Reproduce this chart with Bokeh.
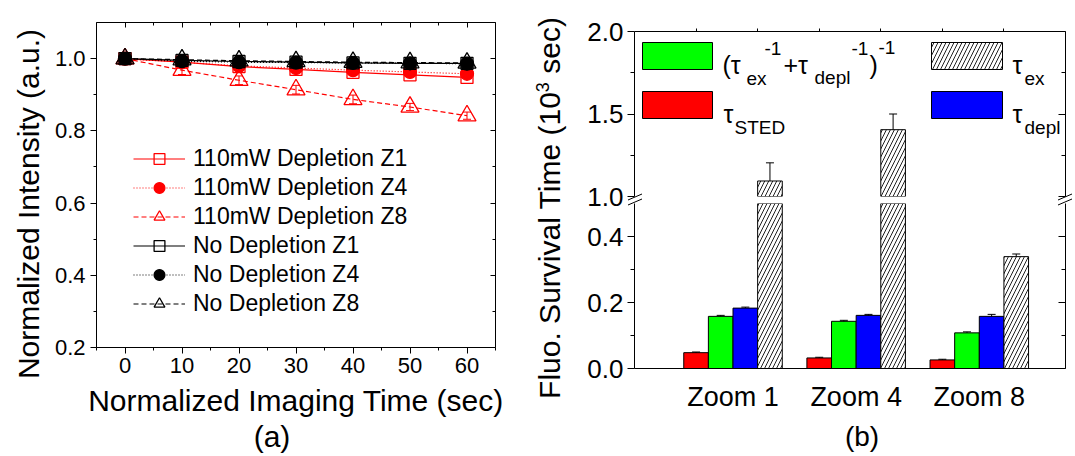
from bokeh.plotting import figure
from bokeh.models import (Range1d, LinearAxis, FixedTicker, Legend, LegendItem,
                          Whisker, ColumnDataSource, Label, BoxAnnotation,
                          TeeHead, PrintfTickFormatter, Div)
from bokeh.layouts import row, column
from bokeh.transform import dodge
from bokeh.embed import file_html
from bokeh.resources import INLINE

FONT = "Liberation Sans"
RED = "#FF0000"
GREEN = "#00FF00"
BLUE = "#0000FF"

# ---------------- data: panel (a) ----------------
time_sec = [0, 10, 20, 30, 40, 50, 60]
dep_z1 = [1.0, 0.990, 0.978, 0.970, 0.962, 0.955, 0.948]
dep_z4 = [1.0, 0.990, 0.980, 0.974, 0.968, 0.963, 0.958]
dep_z8 = [1.0, 0.968, 0.940, 0.914, 0.887, 0.866, 0.842]
dep_z8_err = [0.0, 0.012, 0.012, 0.012, 0.012, 0.010, 0.010]
nodep_z1 = [1.0, 0.995, 0.992, 0.990, 0.988, 0.987, 0.987]
nodep_z4 = [1.0, 0.993, 0.990, 0.989, 0.988, 0.987, 0.986]
nodep_z8 = [1.0, 0.997, 0.994, 0.992, 0.990, 0.989, 0.988]
series_names = ["110mW Depletion Z1", "110mW Depletion Z4", "110mW Depletion Z8",
                "No Depletion Z1", "No Depletion Z4", "No Depletion Z8"]
a_xticks = [0, 10, 20, 30, 40, 50, 60]
a_yticks = [0.2, 0.4, 0.6, 0.8, 1.0]

# ---------------- data: panel (b) ----------------
zoom_names = ["Zoom 1", "Zoom 4", "Zoom 8"]
tau_sted = [0.048, 0.032, 0.026]
tau_sted_err = [0.002, 0.002, 0.002]
tau_comb = [0.158, 0.143, 0.108]
tau_comb_err = [0.003, 0.003, 0.003]
tau_depl = [0.183, 0.161, 0.158]
tau_depl_err = [0.003, 0.003, 0.006]
tau_ex = [1.094, 1.405, 0.339]
tau_ex_err = [0.110, 0.095, 0.008]
b_low_ticks = [0.0, 0.2, 0.4]
b_high_ticks = [1.0, 1.5, 2.0]


def style_axis(ax, ticks, minor=(), tick_in=0, tick_out=6, minor_in=0, minor_out=3,
               size="22px", labels=True, standoff=5, fmt=None):
    ax.ticker = FixedTicker(ticks=list(ticks), minor_ticks=list(minor))
    ax.axis_line_color = "black"
    ax.axis_line_width = 1
    ax.major_tick_line_color = "black"
    ax.minor_tick_line_color = "black"
    ax.major_tick_in = tick_in
    ax.major_tick_out = tick_out
    ax.minor_tick_in = minor_in
    ax.minor_tick_out = minor_out
    ax.major_label_text_font = FONT
    ax.major_label_text_color = "black"
    ax.major_label_standoff = standoff
    ax.major_label_text_font_size = size
    if fmt:
        ax.formatter = PrintfTickFormatter(format=fmt)
    if not labels:
        ax.major_label_overrides = {t: "" for t in ticks}
    ax.axis_label_text_font = FONT
    ax.axis_label_text_font_style = "normal"
    ax.axis_label_text_color = "black"


def screen_label(p, x, y, text, size, align="left", baseline="alphabetic"):
    p.add_layout(Label(x=x, y=y, x_units="screen", y_units="screen", text=text,
                       text_font=FONT, text_font_size=size, text_color="black",
                       text_align=align, text_baseline=baseline))


def html_text(cx, cy, inner, size, rotate=False):
    rot = " rotate(-90deg)" if rotate else ""
    return ('<div style="position:absolute;left:%dpx;top:%dpx;'
            'transform:translate(-50%%,-50%%)%s;white-space:nowrap;line-height:1.15;'
            "font-family:'Liberation Sans';font-size:%s;color:#000;\">%s</div>"
            % (cx, cy, rot, size, inner))


TOP_H = 425          # height of the row holding the two panels
PAGE_W, PAGE_H = 1075, 456
DIV_STYLE = {"position": "relative", "overflow": "visible"}

# ======================= panel (a) =======================
A_X0 = 45                                     # page x where figure (a) starts
A_L, A_T, A_R, A_B = 96, 22, 495, 347          # frame edges in page pixels
A_W = 532 - A_X0
pa = figure(width=A_W, height=TOP_H, x_range=Range1d(-5, 65), y_range=Range1d(0.2, 1.1),
            output_backend="svg", toolbar_location=None,
            min_border_left=A_L - A_X0, min_border_right=532 - A_R, min_border_top=A_T,
            min_border_bottom=TOP_H - A_B)
pa.grid.visible = False
pa.outline_line_color = None

x_minor = [-5, 5, 15, 25, 35, 45, 55, 65]
y_minor = [0.3, 0.5, 0.7, 0.9]
style_axis(pa.below[0], a_xticks, x_minor, tick_out=6, minor_out=3, size="22px", standoff=4)
style_axis(pa.left[0], a_yticks, y_minor, tick_out=6, minor_out=3, size="22px", standoff=5, fmt="%.1f")
ax_r = LinearAxis()
style_axis(ax_r, a_yticks, y_minor, tick_in=5, tick_out=0, minor_in=3, minor_out=0, labels=False, standoff=0)
pa.add_layout(ax_r, "right")
ax_t = LinearAxis()
style_axis(ax_t, a_xticks, x_minor, tick_in=5, tick_out=0, minor_in=3, minor_out=0, labels=False, standoff=0)
pa.add_layout(ax_t, "above")

pa.below[0].axis_label = "Normalized Imaging Time (sec)"
pa.below[0].axis_label_text_font_size = "30px"
pa.below[0].axis_label_standoff = 8

specs = [
    (dep_z1, RED, "solid", "square", None, 12),
    (dep_z4, RED, "1 2", "circle", RED, 13),
    (dep_z8, RED, "5 3", "triangle", None, 18),
    (nodep_z1, "black", "solid", "square", None, 12),
    (nodep_z4, "black", "1 2", "circle", "black", 13),
    (nodep_z8, "black", "5 3", "triangle", None, 18),
]
items = []
for name, (ys, col, dash, mk, fill, sz) in zip(series_names, specs):
    lr = pa.line(time_sec, ys, line_color=col, line_width=1.2, line_dash=dash)
    sr = pa.scatter(time_sec, ys, marker=mk, size=sz, line_color=col,
                    fill_color=fill, fill_alpha=1 if fill else 0, line_width=1.3)
    items.append(LegendItem(label=name, renderers=[lr, sr]))
    if ys is dep_z8:
        ex = [t for t, e in zip(time_sec, dep_z8_err) if e > 0]
        up = [v + e for v, e in zip(ys, dep_z8_err) if e > 0]
        lo = [v - e for v, e in zip(ys, dep_z8_err) if e > 0]
        wsrc = ColumnDataSource(dict(x=ex, upper=up, lower=lo))
        pa.add_layout(Whisker(source=wsrc, base="x", upper="upper", lower="lower",
                              line_color=RED, line_width=1,
                              upper_head=TeeHead(size=8, line_color=RED, line_width=1),
                              lower_head=TeeHead(size=8, line_color=RED, line_width=1)))

legend = Legend(items=items, location=(133 - A_L, A_B - 317), orientation="vertical",
                glyph_width=52, glyph_height=27, label_height=27, spacing=2,
                padding=0, margin=0, label_standoff=8,
                label_text_font=FONT, label_text_font_size="23px",
                label_text_color="black",
                border_line_color=None, background_fill_alpha=0)
pa.add_layout(legend)

ylab_a = Div(text=html_text(29, 204, "Normalized Intensity (a.u.)", "30px", rotate=True),
             width=A_X0, height=TOP_H, margin=0, styles=DIV_STYLE)

# ======================= panel (b) =======================
B_X0 = 572                     # page x where the (b) figures start
B_L, B_R = 634, 1065           # frame left / right (page px)
U_T, U_B = 31, 196             # upper frame top / bottom
L_T, L_B = 203, 368            # lower frame top / bottom
OVERLAP = 9                    # upper canvas reaches this far below the lower frame top

ylab_b = Div(text=html_text(18, 208, 'Fluo. Survival Time (10<sup style="font-size:18px;">3</sup> sec)',
                            "30px", rotate=True),
             width=B_X0 - 532, height=TOP_H, margin=0, styles=DIV_STYLE)

xs = list(range(1, len(zoom_names) + 1))
xr = Range1d(0.2, 3.7)
offsets = [-0.3, -0.1, 0.1, 0.3]
bw = 0.2
HIGH_START = 1.0
LOW_TOP = 0.5

pu = figure(width=PAGE_W - B_X0, height=L_T + OVERLAP, x_range=xr, y_range=Range1d(HIGH_START, 2.0),
            x_axis_location="above", output_backend="svg", toolbar_location=None,
            min_border_left=B_L - B_X0, min_border_right=PAGE_W - B_R,
            min_border_top=U_T, min_border_bottom=L_T + OVERLAP - U_B)
pb = figure(width=PAGE_W - B_X0, height=TOP_H - L_T, x_range=xr, y_range=Range1d(0.0, LOW_TOP),
            output_backend="svg", toolbar_location=None,
            min_border_left=B_L - B_X0, min_border_right=PAGE_W - B_R,
            min_border_top=0, min_border_bottom=TOP_H - L_B, margin=(-OVERLAP, 0, 0, 0))
pb.background_fill_alpha = 0
pb.border_fill_alpha = 0
for p in (pu, pb):
    p.grid.visible = False
    p.outline_line_color = None

style_axis(pu.above[0], [0.7, 1.2, 1.7, 2.2, 2.7, 3.2], [], tick_out=3, labels=False, standoff=0)
style_axis(pu.left[0], b_high_ticks, [1.25, 1.75], tick_out=7, minor_out=4, size="26px",
           standoff=4, fmt="%.1f")
r1 = LinearAxis()
style_axis(r1, b_high_ticks, [1.25, 1.75], tick_in=7, tick_out=0, minor_in=4, minor_out=0,
           labels=False, standoff=0)
pu.add_layout(r1, "right")

style_axis(pb.left[0], b_low_ticks, [0.1, 0.3], tick_out=7, minor_out=4, size="26px",
           standoff=4, fmt="%.1f")
r2 = LinearAxis()
style_axis(r2, b_low_ticks, [0.1, 0.3], tick_in=7, tick_out=0, minor_in=4, minor_out=0,
           labels=False, standoff=0)
pb.add_layout(r2, "right")
style_axis(pb.below[0], xs, [], tick_out=0, size="27px", standoff=13)
pb.below[0].major_label_overrides = {x: n for x, n in zip(xs, zoom_names)}

src = ColumnDataSource(dict(x=xs, sted=tau_sted, comb=tau_comb, depl=tau_depl, ex=tau_ex))
bar_specs = [("sted", RED, offsets[0]), ("comb", GREEN, offsets[1]), ("depl", BLUE, offsets[2])]
for key, colr, off in bar_specs:
    pb.vbar(x=dodge("x", off, range=xr), top=key, width=bw, bottom=0, source=src,
            fill_color=colr, line_color="black", line_width=1)

hatch_kw = dict(fill_color="white", line_color="black", line_width=1,
                hatch_pattern="/", hatch_color="#222222", hatch_scale=8, hatch_weight=1)
pb.vbar(x=dodge("x", offsets[3], range=xr), top="ex", width=bw, bottom=0, source=src, **hatch_kw)
# bars tall enough to reach the upper segment of the broken axis
src_hi = ColumnDataSource(dict(x=[x for x, v in zip(xs, tau_ex) if v > HIGH_START],
                               ex=[v for v in tau_ex if v > HIGH_START]))
pu.vbar(x=dodge("x", offsets[3], range=xr), top="ex", width=bw, bottom=0, source=src_hi, **hatch_kw)


def add_err(p, vals, errs, off, keep):
    bx = [x + off for x, v in zip(xs, vals) if keep(v)]
    up = [v + e for v, e in zip(vals, errs) if keep(v)]
    lo = [v - e for v, e in zip(vals, errs) if keep(v)]
    if not bx:
        return
    s = ColumnDataSource(dict(base=bx, upper=up, lower=lo))
    p.add_layout(Whisker(source=s, base="base", upper="upper", lower="lower",
                         line_color="black", line_width=1,
                         upper_head=TeeHead(size=8, line_color="black", line_width=1),
                         lower_head=TeeHead(size=8, line_color="black", line_width=1)))


add_err(pb, tau_sted, tau_sted_err, offsets[0], lambda v: v < LOW_TOP)
add_err(pb, tau_comb, tau_comb_err, offsets[1], lambda v: v < LOW_TOP)
add_err(pb, tau_depl, tau_depl_err, offsets[2], lambda v: v < LOW_TOP)
add_err(pb, tau_ex, tau_ex_err, offsets[3], lambda v: v < LOW_TOP)
add_err(pu, tau_ex, tau_ex_err, offsets[3], lambda v: v > HIGH_START)


# legend of (b): boxes and text in screen units relative to the upper frame
def fx(px):
    return px - B_L


def fy(py):
    return U_B - py


def swatch(l, t, r, b, color, hatch=None):
    kw = dict(left=fx(l), right=fx(r), top=fy(t), bottom=fy(b),
              left_units="screen", right_units="screen", top_units="screen", bottom_units="screen",
              fill_color=color, fill_alpha=1, line_color="black", line_alpha=1, line_width=1)
    if hatch:
        kw.update(hatch_pattern=hatch, hatch_color="#222222", hatch_scale=8, hatch_weight=1)
    pu.add_layout(BoxAnnotation(**kw))


def txt(px, py, s, size):
    screen_label(pu, fx(px), fy(py), s, size)


swatch(642, 42, 712, 69, GREEN)
swatch(642, 91, 712, 118, RED)
swatch(931, 42, 1002, 69, "white", hatch="/")
swatch(931, 91, 1002, 118, BLUE)

MAIN, SUB = "25px", "19px"
txt(722, 64, "(τ", MAIN)
txt(746, 78, "ex", SUB)
txt(764, 48, "-1", SUB)
txt(783, 64, "+τ", MAIN)
txt(814, 77, "depl", SUB)
txt(851, 48, "-1", SUB)
txt(869, 64, ")", MAIN)
txt(878, 47, "-1", SUB)
txt(723, 113, "τ", MAIN)
txt(734, 127, "STED", SUB)
txt(1012, 64, "τ", MAIN)
txt(1024, 78, "ex", SUB)
txt(1012, 113, "τ", MAIN)
txt(1024, 127, "depl", SUB)

# bottom strip: panel letters plus the axis-break marks (overlaid, page coordinates)
marks = ""
for bx0 in (628, 1058):
    for (ya, yb) in ((200, 194), (205, 199)):
        marks += ('<line x1="%d" y1="%d" x2="%d" y2="%d" stroke="#000" stroke-width="1"/>'
                  % (bx0, ya, bx0 + 14, yb))
overlay = ('<svg width="%d" height="%d" style="position:absolute;left:0;top:-%dpx;'
           'z-index:10;overflow:visible;pointer-events:none">%s</svg>'
           % (PAGE_W, TOP_H, TOP_H, marks))
bottom_html = (html_text(272, 12, "(a)", "30px") + html_text(862, 12, "(b)", "28px") + overlay)
bottom = Div(text=bottom_html, width=PAGE_W, height=PAGE_H - TOP_H, margin=0,
             styles={"position": "relative", "overflow": "visible", "z-index": "10"})

layout = column(row(ylab_a, pa, ylab_b, column(pu, pb)), bottom)
open("out.html", "w").write(file_html(layout, INLINE))
